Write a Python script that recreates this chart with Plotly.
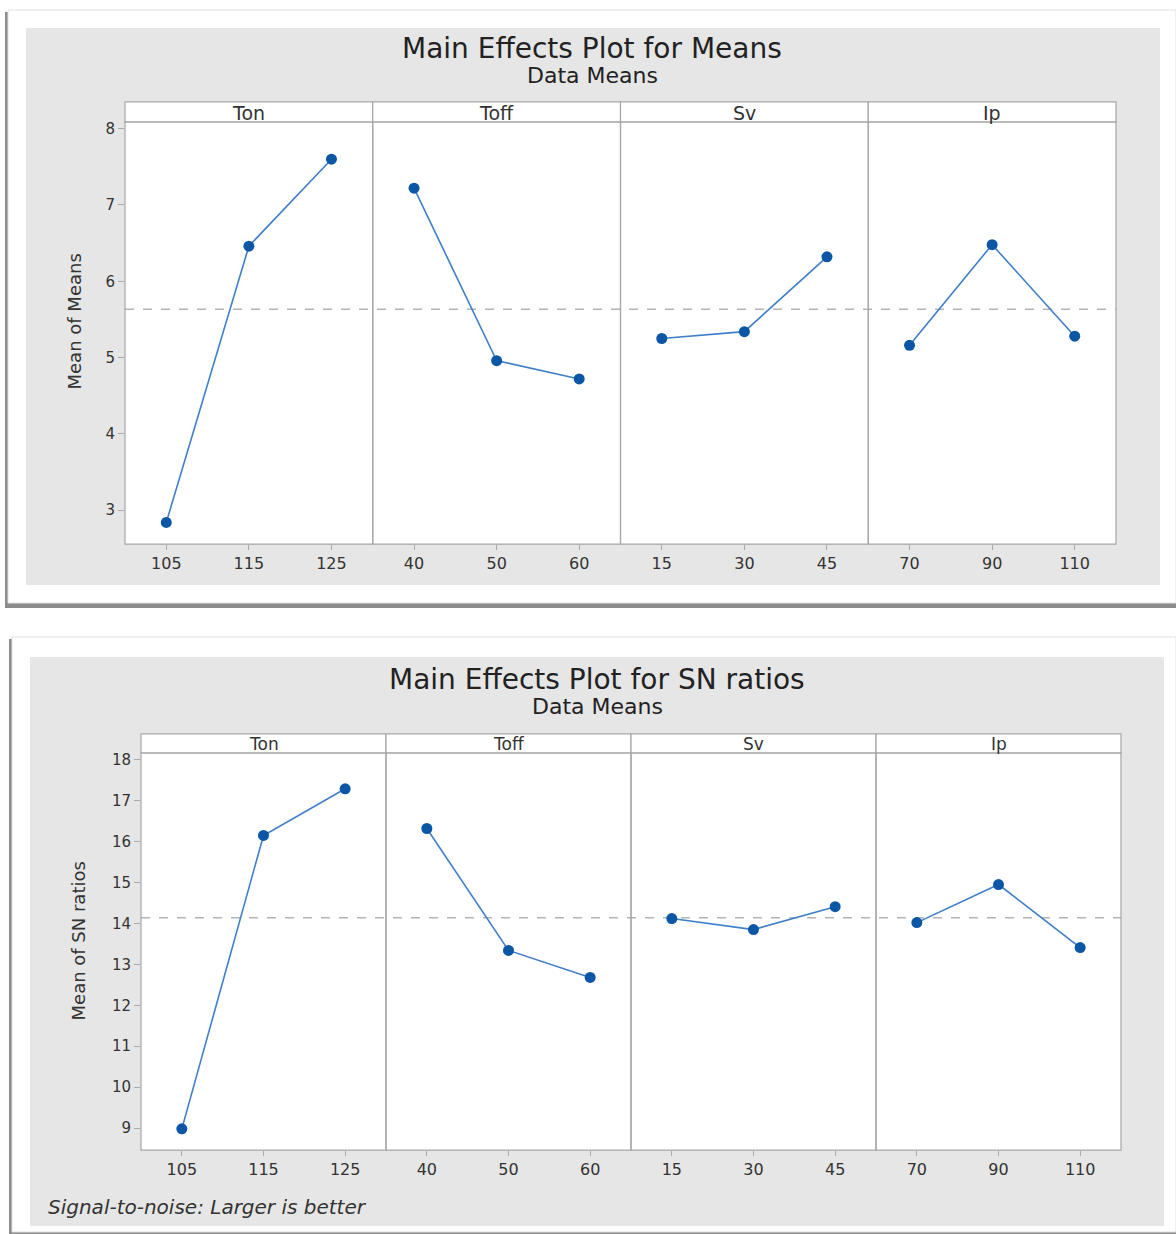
import numpy as np
import plotly.graph_objects as go

# ---------------- data ----------------
factors = ["Ton", "Toff", "Sv", "Ip"]
ton_levels = ["105", "115", "125"]
toff_levels = ["40", "50", "60"]
sv_levels = ["15", "30", "45"]
ip_levels = ["70", "90", "110"]

means_ton = [2.84, 6.46, 7.60]
means_toff = [7.22, 4.96, 4.72]
means_sv = [5.25, 5.34, 6.32]
means_ip = [5.16, 6.48, 5.28]

sn_ton = [8.98, 16.15, 17.29]
sn_toff = [16.32, 13.34, 12.68]
sn_sv = [14.12, 13.85, 14.41]
sn_ip = [14.02, 14.95, 13.41]

means_yticks = [3, 4, 5, 6, 7, 8]
sn_yticks = [9, 10, 11, 12, 13, 14, 15, 16, 17, 18]

levels = [ton_levels, toff_levels, sv_levels, ip_levels]
means_vals = [means_ton, means_toff, means_sv, means_ip]
sn_vals = [sn_ton, sn_toff, sn_sv, sn_ip]

# ---------------- layout helpers ----------------
W, H = 1176, 1234
def px(x):
    return x / W
def py(y):
    return 1 - y / H

FONT = "DejaVu Sans"
GRAY_BG = "#e6e6e6"
FRAME = "#a6a6a6"
TXT = "#333333"

charts = [
    dict(title="Main Effects Plot for Means", sub="Data Means", ylabel="Mean of Means",
         vals=means_vals, yticks=means_yticks, yrange=[2.555, 8.09],
         card=(8, 8, 1176, 602), gray=(26, 26, 1160, 584),
         px0=125, px1=1116, strip_top=100, data_top=120, data_bot=543,
         title_y=47, sub_y=74, ylab_x=74, strip_font=19, yref_idx=1, xoff=0,
         title_x=592, ylab_y=320),
    dict(title="Main Effects Plot for SN ratios", sub="Data Means", ylabel="Mean of SN ratios",
         vals=sn_vals, yticks=sn_yticks, yrange=[8.46, 18.17],
         card=(12, 636, 1176, 1232), gray=(30, 656, 1164, 1226),
         px0=141, px1=1121, strip_top=733, data_top=752, data_bot=1150,
         title_y=679, sub_y=706, ylab_x=78, strip_font=17, yref_idx=2, xoff=4,
         title_x=597, ylab_y=941),
]

fig = go.Figure()
shapes = []
annotations = []
layout = dict(width=W, height=H, margin=dict(l=0, r=0, t=0, b=0),
              paper_bgcolor="white", plot_bgcolor="rgba(0,0,0,0)",
              showlegend=False, font=dict(family=FONT, color=TXT))

for c in charts:
    cx0, cy0, cx1, cy1 = c["card"]
    # shadow and card
    shapes.append(dict(type="rect", xref="paper", yref="paper", layer="below",
                       x0=px(cx0 - 3), x1=px(cx1 + 2), y0=py(cy1 + 5), y1=py(cy0 + 2),
                       fillcolor="#8c8c8c", line=dict(width=0)))
    shapes.append(dict(type="rect", xref="paper", yref="paper", layer="below",
                       x0=px(cx0), x1=px(cx1), y0=py(cy1), y1=py(cy0),
                       fillcolor="white", line=dict(color="#e0e0e0", width=1)))
    gx0, gy0, gx1, gy1 = c["gray"]
    shapes.append(dict(type="rect", xref="paper", yref="paper", layer="below",
                       x0=px(gx0), x1=px(gx1), y0=py(gy1), y1=py(gy0),
                       fillcolor=GRAY_BG, line=dict(width=0)))
    p0, p1 = c["px0"], c["px1"]
    # white plot area
    shapes.append(dict(type="rect", xref="paper", yref="paper", layer="below",
                       x0=px(p0), x1=px(p1), y0=py(c["data_bot"]), y1=py(c["strip_top"]),
                       fillcolor="white", line=dict(width=0)))

    yname = "y" if c["yref_idx"] == 1 else "y2"
    ykey = "yaxis" if c["yref_idx"] == 1 else "yaxis2"
    overall = float(np.mean(c["vals"][0]))
    # mean dashed line
    shapes.append(dict(type="line", xref="paper", yref=yname, layer="below",
                       x0=px(p0), x1=px(p1), y0=overall, y1=overall,
                       line=dict(color="#b4b4b4", width=1.5, dash="dash")))

    pw = (p1 - p0) / 4
    first_x = None
    for i, f in enumerate(factors):
        idx = c["xoff"] + i + 1
        xname = "x" if idx == 1 else f"x{idx}"
        xkey = "xaxis" if idx == 1 else f"xaxis{idx}"
        if first_x is None:
            first_x = xname
        a0 = p0 + i * pw
        a1 = a0 + pw
        layout[xkey] = dict(domain=[px(a0), px(a1)], anchor=yname, type="category",
                            range=[-0.5, 2.5], showgrid=False, zeroline=False,
                            showline=False, ticks="outside", ticklen=5,
                            tickcolor="#aaaaaa", tickfont=dict(size=16, color=TXT),
                            fixedrange=True)
        # panel frame
        shapes.append(dict(type="rect", xref="paper", yref="paper", layer="below",
                           x0=px(a0), x1=px(a1), y0=py(c["data_bot"]), y1=py(c["data_top"]),
                           line=dict(color=FRAME, width=1.2)))
        # strip
        shapes.append(dict(type="rect", xref="paper", yref="paper", layer="below",
                           x0=px(a0), x1=px(a1), y0=py(c["data_top"]), y1=py(c["strip_top"]),
                           fillcolor="white", line=dict(color=FRAME, width=1.2)))
        annotations.append(dict(text=f, xref="paper", yref="paper",
                                x=px((a0 + a1) / 2), y=py((c["strip_top"] + c["data_top"]) / 2 + 1),
                                showarrow=False, xanchor="center", yanchor="middle",
                                font=dict(size=c["strip_font"], color=TXT)))
        fig.add_trace(go.Scatter(x=levels[i], y=c["vals"][i], xaxis=xname, yaxis=yname,
                                 mode="lines+markers",
                                 line=dict(color="#3f7fca", width=1.6),
                                 marker=dict(color="#0b57a6", size=11),
                                 hoverinfo="skip"))
    layout[ykey] = dict(domain=[py(c["data_bot"]), py(c["data_top"])], anchor=first_x,
                        range=c["yrange"], tickvals=c["yticks"], showgrid=False,
                        zeroline=False, showline=False, ticks="outside", ticklen=6,
                        tickcolor="#aaaaaa", tickfont=dict(size=15, color=TXT),
                        fixedrange=True)

    # titles
    annotations.append(dict(text=c["title"], xref="paper", yref="paper",
                            x=px(c["title_x"]), y=py(c["title_y"]), showarrow=False,
                            xanchor="center", yanchor="middle",
                            font=dict(size=28, color="#222222")))
    annotations.append(dict(text=c["sub"], xref="paper", yref="paper",
                            x=px(c["title_x"]), y=py(c["sub_y"]), showarrow=False,
                            xanchor="center", yanchor="middle",
                            font=dict(size=22, color="#222222")))
    annotations.append(dict(text=c["ylabel"], xref="paper", yref="paper",
                            x=px(c["ylab_x"]), y=py(c["ylab_y"]),
                            showarrow=False, textangle=-90, xanchor="center", yanchor="middle",
                            font=dict(size=18, color=TXT)))

annotations.append(dict(text="<i>Signal-to-noise: Larger is better</i>", xref="paper", yref="paper",
                        x=px(46), y=py(1207), showarrow=False, xanchor="left", yanchor="middle",
                        font=dict(size=20, color=TXT)))

layout["shapes"] = shapes
layout["annotations"] = annotations
fig.update_layout(**layout)
fig.write_html("out.html", config={"displayModeBar": False},
               post_script="document.body.style.margin='0px';document.body.style.padding='0px';")
